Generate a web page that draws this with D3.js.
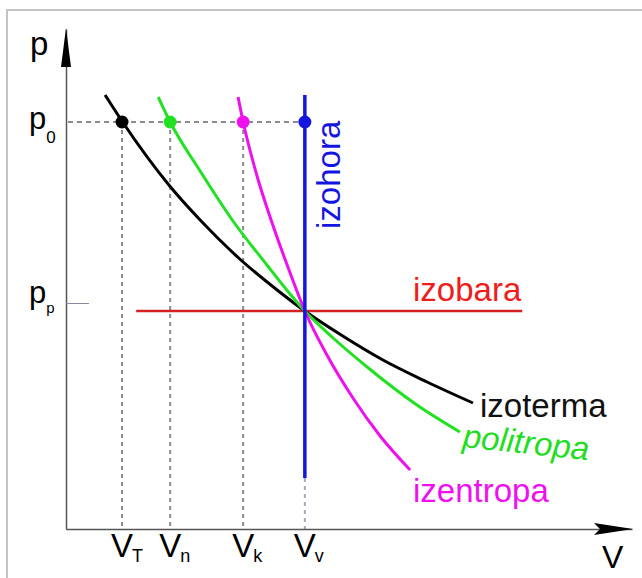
<!DOCTYPE html>
<html>
<head>
<meta charset="utf-8">
<script src="https://cdn.jsdelivr.net/npm/d3@7"></script>
<style>
  body { margin: 0; background: #fff; }
  svg { display: block; font-family: "Liberation Sans", Arial, sans-serif; }
</style>
</head>
<body>
<svg></svg>
<script>
// values (V and p in arbitrary units 0..10)
const volumeSubs = ["T", "n", "k", "v"]
const volumeValues = [0.99, 1.84, 3.13, 4.22]
const pressureSubs = ["0", "p"]
const pressureValues = [8.14, 4.36]
const ppTick = 4.52

const izotermaV = [0.69, 1.0, 1.84, 2.37, 3.07, 3.73, 4.22, 4.89, 5.60, 6.38, 7.19]
const izotermaP = [8.68, 8.14, 6.85, 6.18, 5.40, 4.78, 4.36, 3.86, 3.38, 2.94, 2.52]

const politropaV = [1.63, 1.84, 2.37, 2.95, 3.55, 3.90, 4.22, 4.72, 5.32, 6.20, 6.96]
const politropaP = [8.64, 8.14, 7.16, 6.16, 5.28, 4.78, 4.36, 3.82, 3.24, 2.48, 1.94]

const izentropaV = [3.04, 3.13, 3.37, 3.66, 3.96, 4.22, 4.61, 5.07, 5.55, 6.08]
const izentropaP = [8.64, 8.14, 7.08, 6.06, 5.12, 4.36, 3.48, 2.62, 1.86, 1.18]

const izobaraV = [1.24, 8.06]
const izohoraP = [1.02, 8.68]

const dotColors = ["#000", "#22e022", "#ee11ee", "#1515e0"]

let width = 642
let height = 578

let svg = d3.select("svg").attr("width", width).attr("height", height)

let x = d3.scaleLinear().domain([0, 10]).range([66, 632])
let y = d3.scaleLinear().domain([0, 10]).range([529, 29])

// frame
svg.append("rect")
    .attr("x", 7).attr("y", 10)
    .attr("width", 700).attr("height", 700)
    .attr("fill", "none")
    .attr("stroke", "#c4c4c4")
    .attr("stroke-width", 2)

// dashed guides
let dash = svg.append("g")
    .attr("stroke", "#8c8c8c")
    .attr("stroke-width", 2)
    .attr("fill", "none")

dash.append("line")
    .attr("x1", x(0) + 2).attr("x2", x(volumeValues[3]))
    .attr("y1", y(pressureValues[0])).attr("y2", y(pressureValues[0]))
    .attr("stroke-dasharray", "5,4")

volumeValues.forEach((v, i) => {
    dash.append("line")
        .attr("x1", x(v)).attr("x2", x(v))
        .attr("y1", i == 3 ? y(izohoraP[0]) : y(pressureValues[0]))
        .attr("y2", y(0))
        .attr("stroke-dasharray", "4,4")
        .attr("stroke", i == 3 ? "#a8a8c0" : "#8c8c8c")
})

// axes
let xAxis = d3.axisBottom(x).tickValues([]).tickSizeOuter(0)
let yAxis = d3.axisLeft(y).tickValues([ppTick]).tickSize(-23).tickSizeOuter(0).tickFormat("")

let gx = svg.append("g")
    .attr("transform", "translate(0," + y(0) + ")")
    .call(xAxis)
gx.select(".domain").attr("stroke", "#555").attr("stroke-width", 1.5)

let gy = svg.append("g")
    .attr("transform", "translate(" + x(0) + ",0)")
    .call(yAxis)
gy.select(".domain").attr("stroke", "#555").attr("stroke-width", 1.5)
gy.selectAll(".tick line").attr("stroke", "#8888a0").attr("stroke-width", 1)

// arrow heads
svg.append("path")
    .attr("d", "M" + x(0) + ",28 L" + (x(0) - 5) + ",67 L" + (x(0) + 5) + ",67 Z")
    .attr("fill", "#000")
svg.append("path")
    .attr("d", "M633," + y(0) + " L594," + (y(0) - 6) + " L600," + y(0) + " L594," + (y(0) + 6) + " Z")
    .attr("fill", "#000")

// process lines
let line = d3.line()
    .x(d => x(d[0]))
    .y(d => y(d[1]))
    .curve(d3.curveMonotoneX)

let curves = [
    [izotermaV, izotermaP, "#000"],
    [politropaV, politropaP, "#22e022"],
    [izentropaV, izentropaP, "#ee11ee"]
]

svg.append("line")
    .attr("x1", x(izobaraV[0])).attr("x2", x(izobaraV[1]))
    .attr("y1", y(pressureValues[1])).attr("y2", y(pressureValues[1]))
    .attr("stroke", "#d42222").attr("stroke-width", 2.5)

curves.forEach(c => {
    svg.append("path")
        .datum(c[0].map((v, i) => [v, c[1][i]]))
        .attr("d", line)
        .attr("fill", "none")
        .attr("stroke", c[2])
        .attr("stroke-width", 3)
})

svg.append("line")
    .attr("x1", x(volumeValues[3])).attr("x2", x(volumeValues[3]))
    .attr("y1", y(izohoraP[0])).attr("y2", y(izohoraP[1]))
    .attr("stroke", "#1515e0").attr("stroke-width", 3.5)

svg.selectAll("circle.pt")
    .data(volumeValues)
    .enter()
    .append("circle")
    .attr("class", "pt")
    .attr("cx", d => x(d))
    .attr("cy", y(pressureValues[0]))
    .attr("r", 6.5)
    .attr("fill", (d, i) => dotColors[i])

// axis labels
svg.append("text")
    .attr("x", 30).attr("y", 55)
    .attr("font-size", 33)
    .text("p")

svg.append("text")
    .attr("x", 602).attr("y", 568)
    .attr("font-size", 32)
    .text("V")

let p0 = svg.append("text")
    .attr("x", 29).attr("y", 129)
    .attr("font-size", 31)
    .text("p")
p0.append("tspan").attr("dy", 14).attr("font-size", 17).text(pressureSubs[0])

let pp = svg.append("text")
    .attr("x", 29).attr("y", 303)
    .attr("font-size", 31)
    .text("p")
pp.append("tspan").attr("dy", 10).attr("font-size", 15).text(pressureSubs[1])

volumeValues.forEach((v, i) => {
    let t = svg.append("text")
        .attr("x", x(v) - 11).attr("y", 557)
        .attr("font-size", 33)
        .text("V")
    t.append("tspan").attr("dx", -1).attr("dy", 5).attr("font-size", 18).text(volumeSubs[i])
})

// curve labels
svg.append("text")
    .attr("x", 413).attr("y", 301)
    .attr("font-size", 33)
    .attr("fill", "#ee1c1c")
    .text("izobara")

svg.append("text")
    .attr("x", 480).attr("y", 417)
    .attr("font-size", 33)
    .attr("fill", "#111")
    .text("izoterma")

svg.append("text")
    .attr("transform", "translate(462,447) rotate(6)")
    .attr("font-size", 33)
    .attr("font-style", "italic")
    .attr("fill", "#22dd22")
    .text("politropa")

svg.append("text")
    .attr("x", 413).attr("y", 502)
    .attr("font-size", 33)
    .attr("fill", "#ee11ee")
    .text("izentropa")

svg.append("text")
    .attr("transform", "translate(340,229) rotate(-90)")
    .attr("font-size", 33)
    .attr("fill", "#1515e0")
    .text("izohora")
</script>
</body>
</html>
